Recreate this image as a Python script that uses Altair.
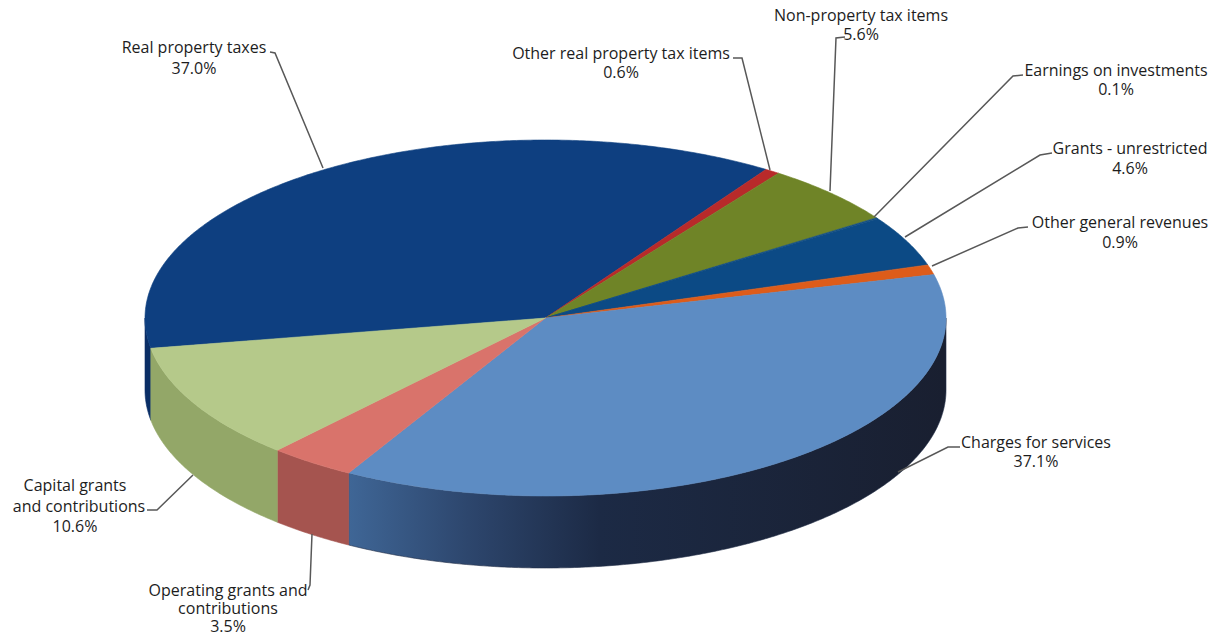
import math
import altair as alt
import pandas as pd

# Revenue shares, clockwise from the first slice
categories = ["Real property taxes", "Other real property tax items", "Non-property tax items",
              "Earnings on investments", "Grants - unrestricted", "Other general revenues",
              "Charges for services", "Operating grants and contributions", "Capital grants and contributions"]
shares = [37.0, 0.6, 5.6, 0.1, 4.6, 0.9, 37.1, 3.5, 10.6]
top_colors = ["#0e3f80", "#b82a2a", "#6f8427", "#17507f", "#0c4a85", "#dd5c1a", "#5d8cc3", "#d9736b", "#b5c98a"]
wall_colors = ["#0a2e66", "#7c1c1c", "#4c5a1a", "#0e3660", "#08325a", "#96400f", "#2b4468", "#a5544f", "#93a768"]

# Ellipse geometry of the tilted disc, in the pixel-sized data space of the scales
CX, CY, RX, RY, DEPTH = 545.5, 318, 400.5, 178, 72
START_ANGLE = 260.2

# Label text lines (share appended below each name) and where each one sits
label_lines = [
    (["Real property taxes"], [194], [48], 69),
    (["Other real property tax items"], [621], [54], 73),
    (["Non-property tax items"], [861], [16], 35),
    (["Earnings on investments"], [1116], [71], 90),
    (["Grants - unrestricted"], [1130], [149], 169),
    (["Other general revenues"], [1120], [223], 243),
    (["Charges for services"], [1036], [443], 462),
    (["Operating grants and", "contributions"], [228, 228], [591, 609], 627),
    (["Capital grants", "and contributions"], [75, 79], [486, 507], 527),
]
share_x = [194, 621, 861, 1116, 1130, 1120, 1036, 228, 75]

# Leader lines from each label to its slice
leaders = [
    [(270, 52), (275, 53), (323, 168)],
    [(733, 58), (742, 58), (770, 170)],
    [(845, 37), (836, 38), (830, 191)],
    [(1023, 75), (1013, 76), (874, 217)],
    [(1052, 153), (1040, 155), (905, 237)],
    [(1028, 227), (1018, 228), (932, 266)],
    [(960, 447), (948, 447), (898, 472)],
    [(308, 590), (310, 585), (312, 534)],
    [(147, 510), (157, 510), (193, 475)],
]


def rim(angle):
    rad = math.radians(angle)
    return CX + RX * math.sin(rad), CY - RY * math.cos(rad)


def top_polygon(a0, a1):
    steps = max(2, int(abs(a1 - a0) * 2))
    pts = [(CX, CY)]
    pts += [rim(a0 + (a1 - a0) * i / steps) for i in range(steps + 1)]
    return pts


def wall_polygon(a0, a1):
    # Only the front half of the rim (90 to 270 degrees) faces the viewer
    lo, hi = max(a0, 90), min(a1, 270)
    if hi <= lo:
        return None
    steps = max(2, int((hi - lo) * 2))
    upper = [rim(lo + (hi - lo) * i / steps) for i in range(steps + 1)]
    lower = [(x, y + DEPTH) for x, y in reversed(upper)]
    return upper + lower


x_enc = alt.X("x:Q", axis=None, scale=alt.Scale(domain=[0, 1220], range=[0, 1220], nice=False, zero=False))
y_enc = alt.Y("y:Q", axis=None, scale=alt.Scale(domain=[0, 639], range=[0, 639], nice=False, zero=False))


def polygon_layer(pts, fill, stroke):
    frame = pd.DataFrame({"x": [p[0] for p in pts], "y": [p[1] for p in pts], "i": range(len(pts))})
    return alt.Chart(frame).mark_line(fill=fill, stroke=stroke, strokeWidth=0.6, interpolate="linear-closed").encode(
        x=x_enc, y=y_enc, order=alt.Order("i:Q"))


layers = []
angle = START_ANGLE
spans = []
for value in shares:
    spans.append((angle, angle + value * 3.6))
    angle += value * 3.6

charges_wall = alt.Gradient(
    gradient="linear", x1=0, y1=0, x2=1, y2=0,
    stops=[alt.GradientStop(color="#3f6696", offset=0),
           alt.GradientStop(color="#2d466d", offset=0.2),
           alt.GradientStop(color="#1c2a45", offset=0.42),
           alt.GradientStop(color="#191f30", offset=1)])

# Side walls first, then the disc; angles above 360 wrap back onto the front half
for (a0, a1), name, wall in zip(spans, categories, wall_colors):
    for shift in (0, -360):
        poly = wall_polygon(a0 + shift, a1 + shift)
        if poly:
            fill = charges_wall if name == "Charges for services" else wall
            stroke = "#222d47" if name == "Charges for services" else wall
            layers.append(polygon_layer(poly, fill, stroke))

for (a0, a1), color in zip(spans, top_colors):
    layers.append(polygon_layer(top_polygon(a0, a1), color, color))

for k, leader in enumerate(leaders):
    frame = pd.DataFrame({"x": [p[0] for p in leader], "y": [p[1] for p in leader], "i": range(len(leader))})
    layers.append(alt.Chart(frame).mark_line(color="#585858", strokeWidth=1.5).encode(
        x=x_enc, y=y_enc, order=alt.Order("i:Q")))

rows = []
for (lines, xs, ys, share_y), sx, value in zip(label_lines, share_x, shares):
    for line, lx, ly in zip(lines, xs, ys):
        rows.append({"x": lx, "y": ly, "t": line})
    rows.append({"x": sx, "y": share_y, "t": f"{value:.1f}%"})

layers.append(alt.Chart(pd.DataFrame(rows)).mark_text(
    font="Open Sans", fontSize=16, fontWeight=500, color="#1d1d1d", align="center", baseline="middle"
).encode(x=x_enc, y=y_enc, text="t:N"))

chart = alt.layer(*layers).properties(width=1220, height=639, padding=0, background="white").configure_view(stroke=None)
chart.save("out.html", embed_options={"renderer": "svg", "actions": False})
